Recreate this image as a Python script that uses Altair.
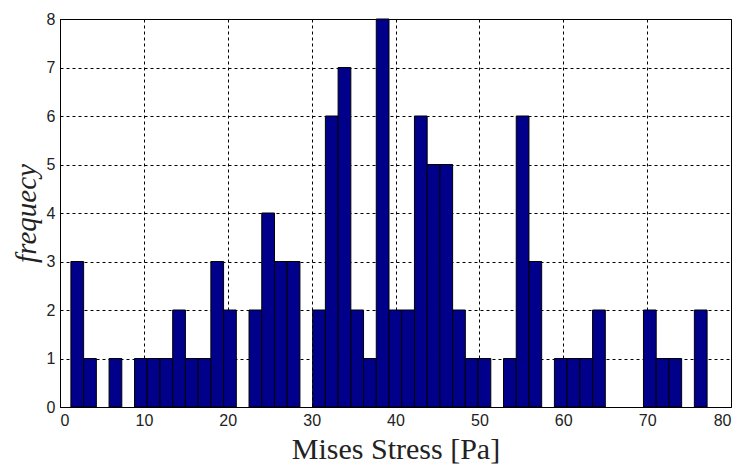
import altair as alt
import pandas as pd
import numpy as np

# histogram values
bin_start = 1.3
bin_width = 1.517
counts = [3, 1, 0, 1, 0, 1, 1, 1, 2, 1,
          1, 3, 2, 0, 2, 4, 3, 3, 0, 2,
          6, 7, 2, 1, 8, 2, 2, 6, 5, 5,
          2, 1, 1, 0, 1, 6, 3, 0, 1, 1,
          1, 2, 0, 0, 0, 2, 1, 1, 0, 2]
x_ticks = [0, 10, 20, 30, 40, 50, 60, 70, 80]
y_ticks = [0, 1, 2, 3, 4, 5, 6, 7, 8]

edges = bin_start + bin_width * np.arange(len(counts) + 1)
df = pd.DataFrame({"lo": edges[:-1], "hi": edges[1:], "count": counts,
                   "base": 0})
df = df[df["count"] > 0]

chart = alt.Chart(df).mark_bar(
    color="#00008a", stroke="#000000", strokeWidth=1, opacity=1
).encode(
    x=alt.X("lo:Q", scale=alt.Scale(domain=[0, 80], nice=False, padding=0),
            axis=alt.Axis(values=x_ticks, title="Mises Stress [Pa]", format="d")),
    x2="hi:Q",
    y=alt.Y("count:Q", scale=alt.Scale(domain=[0, 8], nice=False, padding=0),
            axis=alt.Axis(values=y_ticks, title="frequecy", format="d")),
    y2="base:Q",
).properties(
    width=671, height=388,
    autosize=alt.AutoSizeParams(type="none"),
    padding={"left": 52, "top": 11, "right": 3, "bottom": 65},
).configure_view(
    stroke="#000000", strokeWidth=1
).configure_axis(
    domainColor="#000000", domainWidth=1,
    ticks=False,
    grid=True, gridColor="#000000", gridDash=[3, 3], gridWidth=1, gridOpacity=1,
    labelFont="Liberation Sans", labelFontSize=16, labelColor="#222222",
    titleFont="Liberation Serif", titleColor="#222222", titleFontWeight="normal",
).configure_axisX(
    labelPadding=5, titleFontSize=30, titlePadding=6,
).configure_axisY(
    labelPadding=5, titleFontSize=29, titleFontStyle="italic", titlePadding=5,
)

chart.save("out.html", embed_options={"renderer": "svg", "actions": False})
